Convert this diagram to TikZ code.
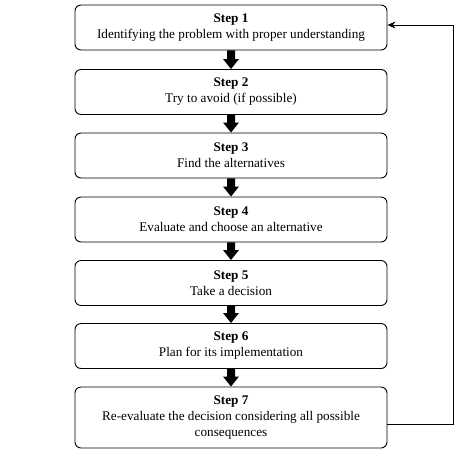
\documentclass[tikz,border=0pt]{standalone}
\usepackage{fontspec}
\setmainfont{Liberation Serif}
\usetikzlibrary{calc,arrows.meta}
\tikzset{
  stepbox/.style={draw, line width=0.9pt, rounded corners=6pt, minimum width=312pt, minimum height=45pt, align=center, font=\fontsize{13.2pt}{16pt}\selectfont, inner sep=2pt},
  feedback/.style={draw, line width=0.9pt, -{Stealth[length=8pt,width=7pt]}}
}
\newcommand{\blkarrow}[2]{%
  \fill ($(#1.south)+(-4pt,0)$) -- ($(#1.south)+(4pt,0)$) -- ($(#2.north)+(4pt,10pt)$) -- ($(#2.north)+(8pt,10pt)$) -- (#2.north) -- ($(#2.north)+(-8pt,10pt)$) -- ($(#2.north)+(-4pt,10pt)$) -- cycle;}
\begin{document}
\begin{tikzpicture}
\useasboundingbox (0,0) rectangle (474pt,-459pt);
\node[stepbox] (b1) at (231pt,-27.5pt) {\textbf{Step 1}\\Identifying the problem with proper understanding};
\node[stepbox] (b2) at (231pt,-92pt) {\textbf{Step 2}\\Try to avoid (if possible)};
\node[stepbox] (b3) at (231pt,-155.5pt) {\textbf{Step 3}\\Find the alternatives};
\node[stepbox] (b4) at (231pt,-219.5pt) {\textbf{Step 4}\\Evaluate and choose an alternative};
\node[stepbox] (b5) at (231pt,-283pt) {\textbf{Step 5}\\Take a decision};
\node[stepbox] (b6) at (231pt,-346pt) {\textbf{Step 6}\\Plan for its implementation};
\node[stepbox, minimum height=61pt] (b7) at (231pt,-417.5pt) {\textbf{Step 7}\\Re-evaluate the decision considering all possible\\consequences};
\blkarrow{b1}{b2}
\blkarrow{b2}{b3}
\blkarrow{b3}{b4}
\blkarrow{b4}{b5}
\blkarrow{b5}{b6}
\blkarrow{b6}{b7}
\coordinate (fbs) at ($(b7.east)+(0,-6.5pt)$);
\coordinate (fbc) at (453pt,-25pt);
\draw[feedback] (fbs) -| (fbc) -- ($(b1.east)+(0,2.5pt)$);
\end{tikzpicture}
\end{document}
